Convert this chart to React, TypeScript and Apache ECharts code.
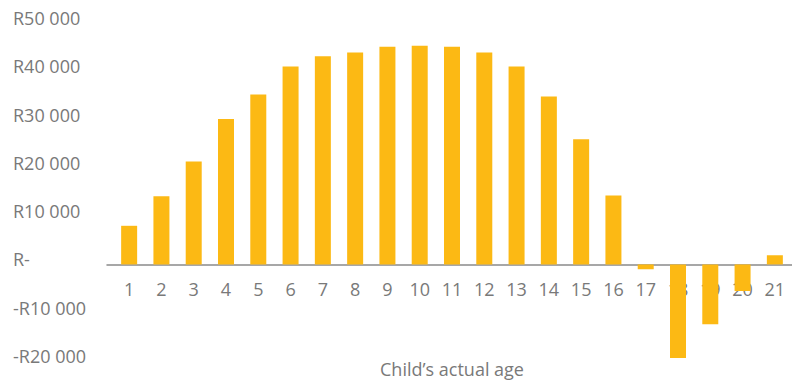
import React, { useEffect, useRef } from "react";
import * as echarts from "echarts";

const ages = ["1","2","3","4","5","6","7","8","9","10","11","12","13","14","15","16","17","18","19","20","21"];
const values = [8000, 14100, 21300, 30100, 35200, 41000, 43100, 43900, 45100, 45300, 45100, 43900, 41000, 34800, 25900, 14300, -1000, -19400, -12400, -5500, 1900];
const yMin = -20000;
const yMax = 50000;
const yStep = 10000;
const xTitle = "Child\u2019s actual age";

function fmt(v: number): string {
  if (v === 0) return "R-";
  const a = Math.abs(v);
  const s = String(a).replace(/\B(?=(\d{3})+(?!\d))/g, " ");
  return (v < 0 ? "-" : "") + "R" + s;
}

export default function App() {
  const ref = useRef<HTMLDivElement>(null);
  useEffect(() => {
    document.body.style.margin = "0";
    const chart = echarts.init(ref.current!, undefined, { renderer: "svg" });
    const font = "'Open Sans', sans-serif";
    const textColor = "#797979";
    const top = 23;
    const h = 338;
    const zeroH = (h * yMax) / (yMax - yMin);
    chart.setOption({
      animation: false,
      grid: [
        { left: 113, right: 1, top, height: h, outerBoundsMode: "none", containLabel: false },
        { left: 107, right: 0, top, height: h, outerBoundsMode: "none", containLabel: false },
        { left: 113, right: 1, top, height: zeroH, outerBoundsMode: "none", containLabel: false },
      ],
      xAxis: [
        {
          type: "category",
          gridIndex: 0,
          data: ages,
          show: false,
        },
        {
          type: "category",
          gridIndex: 1,
          data: [""],
          axisLine: { show: true, onZero: true, lineStyle: { color: "#8a8a8a", width: 1.5 } },
          axisTick: { show: false },
          axisLabel: { show: false },
        },
        {
          type: "category",
          gridIndex: 2,
          data: ages,
          axisLine: { show: false },
          axisTick: { show: false },
          axisLabel: { color: textColor, fontFamily: font, fontSize: 18, margin: 16, interval: 0 },
          name: xTitle,
          nameLocation: "middle",
          nameGap: 96,
          nameTextStyle: { color: textColor, fontFamily: font, fontSize: 18 },
        },
      ],
      yAxis: [
        {
          type: "value",
          gridIndex: 0,
          min: yMin,
          max: yMax,
          interval: yStep,
          axisLine: { show: false },
          axisTick: { show: false },
          splitLine: { show: false },
          axisLabel: {
            color: textColor,
            fontFamily: font,
            fontSize: 18,
            align: "left",
            verticalAlign: "bottom",
            lineHeight: 10,
            margin: 100,
            formatter: (v: number) => fmt(v),
          },
        },
        {
          type: "value",
          gridIndex: 1,
          min: yMin,
          max: yMax,
          interval: yStep,
          show: false,
        },
        {
          type: "value",
          gridIndex: 2,
          min: 0,
          max: 1,
          show: false,
        },
      ],
      series: [
        {
          type: "bar",
          xAxisIndex: 0,
          yAxisIndex: 0,
          data: values,
          barWidth: 16,
          itemStyle: { color: "#FCB914" },
        },
      ],
    });
    return () => chart.dispose();
  }, []);
  return <div ref={ref} style={{ width: 792, height: 383 }} />;
}
